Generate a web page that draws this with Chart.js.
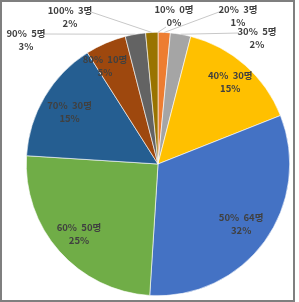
<!DOCTYPE html>
<html>
<head>
<meta charset="utf-8">
<script src="https://cdn.jsdelivr.net/npm/chart.js@4/dist/chart.umd.min.js"></script>
<style>
  html, body { margin: 0; padding: 0; background: #fff; }
  #wrap { width: 299px; height: 302px; position: relative; }
</style>
</head>
<body>
<div id="wrap"><canvas id="pieChart" width="299" height="302"></canvas></div>
<script>
// ── Data ──
const categories = ['10%', '20%', '30%', '40%', '50%', '60%', '70%', '80%', '90%', '100%'];
const counts     = [0, 3, 5, 30, 64, 50, 30, 10, 5, 3];
const pctLabels  = ['0%', '1%', '2%', '15%', '32%', '25%', '15%', '5%', '3%', '2%'];

const colors = ['#4472C4', '#ED7D31', '#A5A5A5', '#FFC000', '#4472C4', '#70AD47',
                '#255E91', '#9E480E', '#636363', '#997300'];

// label placement: inside ones sit on the slice's mid angle at a fraction of the radius,
// the small ones are pulled outside with a leader line
const labelPlace = [
  { x: 174, y: 15.5, lx: 166, ly: 27 },
  { x: 238, y: 15.5, lx: 219, ly: 12 },
  { x: 257, y: 38,   lx: 239, ly: 33 },
  { r: 0.83 },
  { r: 0.78 },
  { r: 0.80 },
  { r: 0.78 },
  { x: 105, y: 65.5 },
  { x: 26,  y: 40,   lx: 44,  ly: 34 },
  { x: 70,  y: 16.5, lx: 91,  ly: 12 }
];

const FONT = 'bold 9.5px "Noto Sans CJK KR", "Noto Sans", sans-serif';

const labelPlugin = {
  id: 'sliceLabels',
  afterDatasetsDraw(chart) {
    const ctx = chart.ctx;
    const arcs = chart.getDatasetMeta(0).data;
    ctx.save();
    ctx.font = FONT;
    ctx.textAlign = 'center';
    ctx.textBaseline = 'middle';
    arcs.forEach((arc, i) => {
      const { x, y, startAngle, endAngle, outerRadius } = arc.getProps(['x', 'y', 'startAngle', 'endAngle', 'outerRadius'], true);
      const mid = (startAngle + endAngle) / 2;
      const p = labelPlace[i];
      let cx, cy;
      if (p.r) {
        cx = x + Math.cos(mid) * outerRadius * p.r;
        cy = y + Math.sin(mid) * outerRadius * p.r;
      } else {
        cx = p.x; cy = p.y;
      }
      if (p.lx !== undefined) {
        ctx.strokeStyle = '#c8c8c8';
        ctx.lineWidth = 1;
        ctx.beginPath();
        ctx.moveTo(p.lx, p.ly);
        ctx.lineTo(x + Math.cos(mid) * outerRadius, y + Math.sin(mid) * outerRadius);
        ctx.stroke();
      }
      ctx.fillStyle = '#404040';
      ctx.fillText(categories[i] + '  ' + counts[i] + '명', cx, cy - 6.5);
      ctx.fillText(pctLabels[i], cx, cy + 6.5);
    });
    ctx.restore();
  }
};

const framePlugin = {
  id: 'frame',
  afterDraw(chart) {
    const ctx = chart.ctx;
    ctx.save();
    ctx.strokeStyle = '#7f7f7f';
    ctx.lineWidth = 2;
    ctx.strokeRect(1, 1, 293, 300);
    ctx.restore();
  }
};

new Chart(document.getElementById('pieChart'), {
  type: 'pie',
  data: {
    labels: categories,
    datasets: [{
      data: counts,
      backgroundColor: colors,
      borderColor: '#ffffff',
      borderWidth: 0.6
    }]
  },
  options: {
    responsive: false,
    animation: false,
    layout: { padding: { left: 26, right: 9, top: 32, bottom: 6 } },
    plugins: {
      legend: { display: false },
      tooltip: { enabled: false }
    }
  },
  plugins: [labelPlugin, framePlugin]
});
</script>
</body>
</html>
